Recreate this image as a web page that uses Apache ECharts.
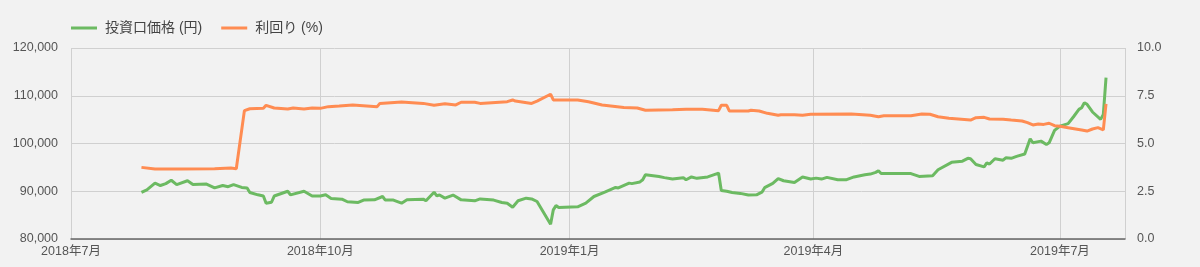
<!DOCTYPE html>
<html>
<head>
<meta charset="utf-8">
<script src="https://cdn.jsdelivr.net/npm/echarts@6/dist/echarts.min.js"></script>
<style>
  html, body { margin: 0; padding: 0; background: #f2f2f2; }
  #main { width: 1200px; height: 267px; }
</style>
</head>
<body>
<div id="main"></div>
<script>
  // 投資口価格 (円)
  var priceDates = [
    '2018-07-27', '2018-07-29', '2018-08-01', '2018-08-03', '2018-08-05', '2018-08-07', '2018-08-09',
    '2018-08-13', '2018-08-15', '2018-08-20', '2018-08-23', '2018-08-26', '2018-08-28', '2018-08-30',
    '2018-09-02', '2018-09-04', '2018-09-05', '2018-09-08', '2018-09-10', '2018-09-11', '2018-09-13',
    '2018-09-14', '2018-09-19', '2018-09-20', '2018-09-25', '2018-09-28', '2018-10-01', '2018-10-03',
    '2018-10-05', '2018-10-09', '2018-10-11', '2018-10-15', '2018-10-17', '2018-10-21', '2018-10-24',
    '2018-10-25', '2018-10-28', '2018-10-31', '2018-11-02', '2018-11-08', '2018-11-09', '2018-11-12',
    '2018-11-13', '2018-11-14', '2018-11-16', '2018-11-19', '2018-11-22', '2018-11-27', '2018-11-29',
    '2018-12-04', '2018-12-07', '2018-12-09', '2018-12-11', '2018-12-13', '2018-12-16', '2018-12-18',
    '2018-12-20', '2018-12-25', '2018-12-26', '2018-12-27', '2018-12-28', '2019-01-04', '2019-01-07',
    '2019-01-10', '2019-01-14', '2019-01-18', '2019-01-19', '2019-01-23', '2019-01-24', '2019-01-27',
    '2019-01-28', '2019-01-29', '2019-02-03', '2019-02-05', '2019-02-08', '2019-02-12', '2019-02-13',
    '2019-02-15', '2019-02-17', '2019-02-21', '2019-02-25', '2019-02-26', '2019-02-28', '2019-03-02',
    '2019-03-05', '2019-03-08', '2019-03-11', '2019-03-13', '2019-03-14', '2019-03-17', '2019-03-19',
    '2019-03-21', '2019-03-25', '2019-03-28', '2019-03-31', '2019-04-02', '2019-04-04', '2019-04-06',
    '2019-04-10', '2019-04-13', '2019-04-16', '2019-04-20', '2019-04-22', '2019-04-24', '2019-04-25',
    '2019-04-26', '2019-05-04', '2019-05-07', '2019-05-10', '2019-05-15', '2019-05-17', '2019-05-22',
    '2019-05-26', '2019-05-28', '2019-05-29', '2019-05-31', '2019-06-03', '2019-06-04', '2019-06-05',
    '2019-06-07', '2019-06-10', '2019-06-11', '2019-06-13', '2019-06-15', '2019-06-18', '2019-06-20',
    '2019-06-21', '2019-06-24', '2019-06-26', '2019-06-27', '2019-06-29', '2019-07-01', '2019-07-04',
    '2019-07-06', '2019-07-08', '2019-07-09', '2019-07-10', '2019-07-11', '2019-07-13', '2019-07-16',
    '2019-07-17', '2019-07-18'
  ];
  var priceValues = [
    89750, 90300, 91700, 91200, 91600, 92300, 91400,
    92200, 91400, 91500, 90700, 91200, 90950, 91400,
    90800, 90700, 89750, 89250, 89000, 87500, 87700,
    89000, 90000, 89250, 90000, 89000, 89000, 89250,
    88500, 88350, 87800, 87650, 88150, 88200, 88900,
    88150, 88150, 87500, 88200, 88350, 88000, 89800,
    89050, 89200, 88550, 89200, 88200, 88000, 88400,
    88150, 87650, 87500, 86650, 88000, 88550, 88400,
    87850, 83100, 86100, 87000, 86600, 86750, 87500,
    88900, 89800, 90800, 90700, 91700, 91600, 91950,
    92400, 93450, 93100, 92850, 92550, 92850, 92400,
    93000, 92700, 93000, 93800, 90150, 90000, 89750,
    89550, 89200, 89250, 89800, 90750, 91650, 92650,
    92200, 91850, 93000, 92550, 92750, 92550, 92900,
    92400, 92400, 93000, 93450, 93600, 93950, 94300,
    93700, 93700, 93700, 93100, 93250, 94500, 96050,
    96300, 96900, 96800, 95600, 95100, 95950, 95700,
    96800, 96500, 97000, 96900, 97300, 97800, 101000,
    100150, 100500, 99800, 100150, 102750, 103650, 104150,
    105600, 107150, 107500, 108550, 108200, 106600, 105050,
    106100, 113800
  ];

  // 利回り (%)
  var yieldDates = [
    '2018-07-27', '2018-08-01', '2018-08-10', '2018-08-23', '2018-08-29', '2018-08-31', '2018-09-03',
    '2018-09-05', '2018-09-10', '2018-09-11', '2018-09-14', '2018-09-19', '2018-09-21', '2018-09-25',
    '2018-09-28', '2018-10-01', '2018-10-04', '2018-10-08', '2018-10-13', '2018-10-22', '2018-10-23',
    '2018-10-31', '2018-11-08', '2018-11-12', '2018-11-16', '2018-11-20', '2018-11-22', '2018-11-27',
    '2018-11-29', '2018-12-09', '2018-12-11', '2018-12-12', '2018-12-18', '2018-12-20', '2018-12-25',
    '2018-12-26', '2019-01-04', '2019-01-08', '2019-01-13', '2019-01-21', '2019-01-26', '2019-01-29',
    '2019-02-08', '2019-02-13', '2019-02-19', '2019-02-25', '2019-02-26', '2019-02-28', '2019-03-01',
    '2019-03-08', '2019-03-09', '2019-03-12', '2019-03-15', '2019-03-19', '2019-03-20', '2019-03-25',
    '2019-03-28', '2019-03-31', '2019-04-15', '2019-04-22', '2019-04-25', '2019-04-27', '2019-05-07',
    '2019-05-11', '2019-05-14', '2019-05-17', '2019-05-21', '2019-05-29', '2019-05-31', '2019-06-03',
    '2019-06-05', '2019-06-10', '2019-06-13', '2019-06-17', '2019-06-19', '2019-06-21', '2019-06-23',
    '2019-06-25', '2019-06-27', '2019-06-29', '2019-07-01', '2019-07-04', '2019-07-09', '2019-07-11',
    '2019-07-13', '2019-07-15', '2019-07-17', '2019-07-18'
  ];
  var yieldValues = [
    3.75, 3.66, 3.66, 3.68, 3.72, 3.68, 6.72,
    6.82, 6.84, 7.00, 6.86, 6.81, 6.86, 6.81,
    6.86, 6.84, 6.93, 6.96, 7.02, 6.93, 7.10,
    7.17, 7.10, 7.00, 7.08, 7.02, 7.16, 7.16,
    7.10, 7.19, 7.28, 7.22, 7.10, 7.22, 7.58,
    7.28, 7.28, 7.19, 7.02, 6.88, 6.86, 6.74,
    6.77, 6.79, 6.79, 6.72, 7.00, 7.00, 6.70,
    6.70, 6.74, 6.70, 6.58, 6.48, 6.51, 6.51,
    6.48, 6.53, 6.54, 6.48, 6.40, 6.45, 6.45,
    6.54, 6.53, 6.40, 6.32, 6.23, 6.35, 6.37,
    6.28, 6.27, 6.23, 6.18, 6.09, 5.97, 6.02,
    6.00, 6.06, 5.93, 5.90, 5.83, 5.71, 5.65,
    5.76, 5.83, 5.71, 7.07
  ];

  var seriesNames = ['投資口価格 (円)', '利回り (%)'];

  function zip(dates, values) {
    return dates.map(function (d, i) { return [d, values[i]]; });
  }

  var myChart = echarts.init(document.getElementById('main'));

  var textColor = '#555';
  var fontFamily = 'Arial, "Liberation Sans", "Noto Sans CJK JP", sans-serif';

  var option = {
    backgroundColor: '#f2f2f2',
    animation: false,
    textStyle: { fontFamily: fontFamily },
    legend: {
      data: seriesNames,
      left: 66,
      top: 16,
      icon: 'rect',
      itemWidth: 26,
      itemHeight: 3,
      itemGap: 19,
      textStyle: { color: '#444', fontSize: 14, padding: [0, 0, 0, 3], fontFamily: fontFamily }
    },
    grid: { left: 71, right: 75, top: 48, bottom: 28 },
    xAxis: {
      type: 'time',
      min: '2018-07-01',
      max: '2019-07-25',
      splitNumber: 4,
      axisLine: { lineStyle: { color: '#666', width: 1.5 } },
      axisTick: { show: false },
      axisLabel: {
        color: textColor,
        fontSize: 12.5,
        margin: 6,
        showMaxLabel: false,
        formatter: function (v) {
          var d = new Date(v);
          return d.getFullYear() + '年' + (d.getMonth() + 1) + '月';
        }
      },
      splitLine: { show: true, lineStyle: { color: '#d0d0d0', width: 1 } }
    },
    yAxis: [
      {
        type: 'value',
        min: 80000,
        max: 120000,
        interval: 10000,
        axisLine: { show: false },
        axisTick: { show: false },
        axisLabel: {
          color: textColor,
          fontSize: 12.5,
          margin: 13,
          formatter: function (v) { return v.toLocaleString('en-US'); }
        },
        splitLine: { lineStyle: { color: '#d0d0d0', width: 1 } }
      },
      {
        type: 'value',
        min: 0,
        max: 10,
        interval: 2.5,
        axisLine: { show: false },
        axisTick: { show: false },
        axisLabel: {
          color: textColor,
          fontSize: 12.5,
          margin: 12,
          formatter: function (v) { return v.toFixed(1); }
        },
        splitLine: { show: false }
      }
    ],
    series: [
      {
        name: seriesNames[0],
        type: 'line',
        yAxisIndex: 0,
        showSymbol: false,
        symbol: 'none',
        itemStyle: { color: '#6cba62' },
        lineStyle: { color: '#6cba62', width: 3 },
        data: zip(priceDates, priceValues)
      },
      {
        name: seriesNames[1],
        type: 'line',
        yAxisIndex: 1,
        showSymbol: false,
        symbol: 'none',
        itemStyle: { color: '#ff8c52' },
        lineStyle: { color: '#ff8c52', width: 3 },
        data: zip(yieldDates, yieldValues)
      }
    ]
  };

  myChart.setOption(option);
</script>
</body>
</html>
